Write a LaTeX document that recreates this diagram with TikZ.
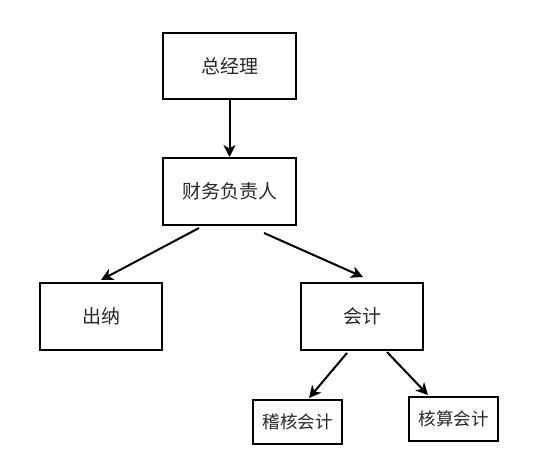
\documentclass[tikz,border=0pt]{standalone}
\usepackage{fontspec}
\setmainfont{Noto Sans CJK SC}
\usetikzlibrary{arrows.meta}
\tikzset{
  box/.style={draw=black, line width=2pt, inner sep=0pt, font=\fontsize{19}{21}\selectfont, text=black!85},
  smallbox/.style={box, font=\fontsize{17.5}{19}\selectfont},
  link/.style={line width=2pt, -{Stealth[length=12pt,width=12pt,inset=3.5pt]}}
}
\begin{document}
\begin{tikzpicture}[x=1pt,y=-1pt]
\useasboundingbox (0,0) rectangle (533,453);
\node[box, minimum width=133pt, minimum height=66pt] (zjl) at (229.5,66) {总经理};
\node[box, minimum width=133pt, minimum height=67pt] (cw) at (229.5,191.5) {财务负责人};
\node[box, minimum width=122pt, minimum height=67pt] (cn) at (101,316.5) {出纳};
\node[box, minimum width=122pt, minimum height=67pt] (kj) at (362,316.5) {会计};
\node[smallbox, minimum width=89pt, minimum height=44pt] (jh) at (297.5,422) {稽核会计};
\node[smallbox, minimum width=89pt, minimum height=44pt] (hs) at (453.5,419) {核算会计};
\draw[link] (zjl.south) -- (cw.north);
\draw[link] ([xshift=-30.5pt,yshift=-2pt]cw.south) -- ([yshift=2pt]cn.north);
\draw[link] ([xshift=34.5pt,yshift=-7pt]cw.south) -- ([xshift=1pt,yshift=5pt]kj.north);
\draw[link] ([xshift=-15pt,yshift=-2pt]kj.south) -- ([xshift=11.5pt,yshift=1pt]jh.north);
\draw[link] ([xshift=25pt,yshift=-1pt]kj.south) -- ([xshift=-25.5pt,yshift=1pt]hs.north);
\end{tikzpicture}
\end{document}
